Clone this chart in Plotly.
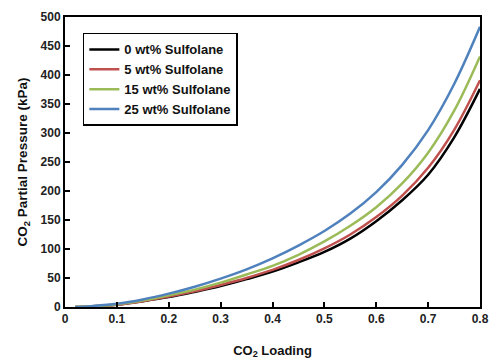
import plotly.graph_objects as go

loading = [0.02, 0.05, 0.1, 0.15, 0.2, 0.25, 0.3, 0.35, 0.4, 0.45, 0.5, 0.55, 0.6, 0.65, 0.7, 0.75, 0.8]
p_0 = [0, 1, 4, 10, 17, 26, 36, 48, 61, 77, 95, 118, 148, 184, 228, 292, 376]
p_5 = [0, 1, 4, 10, 18, 27, 38, 50, 64, 81, 101, 125, 155, 192, 240, 305, 391]
p_15 = [0, 1.2, 4.5, 11, 20, 30, 42, 56, 71, 90, 113, 140, 172, 213, 266, 338, 432]
p_25 = [0, 1.5, 5.5, 13, 23, 35, 49, 65, 84, 106, 131, 161, 198, 245, 305, 384, 483]

series = [
    ("0 wt% Sulfolane", p_0, "#000000"),
    ("5 wt% Sulfolane", p_5, "#C0504D"),
    ("15 wt% Sulfolane", p_15, "#9BBB59"),
    ("25 wt% Sulfolane", p_25, "#4F81BD"),
]

x_ticks = [0, 0.1, 0.2, 0.3, 0.4, 0.5, 0.6, 0.7, 0.8]
y_ticks = [0, 50, 100, 150, 200, 250, 300, 350, 400, 450, 500]

fig = go.Figure()
for name, vals, color in series:
    fig.add_trace(go.Scatter(x=loading, y=vals, name=name, mode="lines",
                             line=dict(color=color, width=2.5, shape="spline")))

font_b = "Liberation Sans, Arial, sans-serif"
fig.update_layout(
    width=489, height=362,
    margin=dict(l=65, r=9, t=17, b=55, autoexpand=False),
    paper_bgcolor="white", plot_bgcolor="white",
    font=dict(family=font_b, color="#222222"),
    showlegend=True,
    legend=dict(x=0.043, y=0.945, xanchor="left", yanchor="top",
                bgcolor="white", bordercolor="black", borderwidth=1.5,
                font=dict(size=13, family=font_b, color="#111111", weight="bold"),
                tracegroupgap=0),
    xaxis=dict(range=[0, 0.8], tickvals=x_ticks, ticktext=[f"{v:g}" for v in x_ticks],
               automargin=False,
               showline=True, linecolor="black", linewidth=2, mirror=True,
               ticks="inside", ticklen=5, tickwidth=2, tickcolor="black",
               showgrid=False, zeroline=False,
               tickfont=dict(size=12, family=font_b, color="#222222", weight="bold"),
               title=dict(text="CO<sub>2</sub> Loading", standoff=20,
                          font=dict(size=13, family=font_b, color="#111111", weight="bold"))),
    yaxis=dict(range=[0, 500], tickvals=y_ticks, automargin=False,
               showline=True, linecolor="black", linewidth=2, mirror=True,
               ticks="inside", ticklen=5, tickwidth=2, tickcolor="black",
               showgrid=False, zeroline=False,
               tickfont=dict(size=12, family=font_b, color="#222222", weight="bold"),
               title=dict(text="CO<sub>2</sub> Partial Pressure (kPa)", standoff=10,
                          font=dict(size=13.5, family=font_b, color="#111111", weight="bold"))),
)

fig.write_html("out.html")
